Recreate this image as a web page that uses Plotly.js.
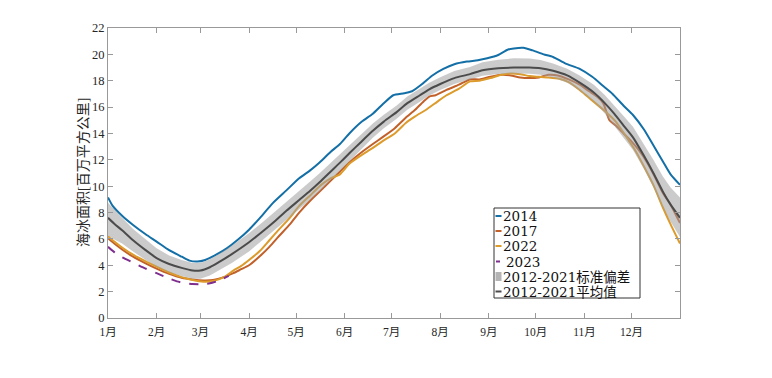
<!DOCTYPE html>
<html>
<head>
<meta charset="utf-8">
<script src="https://cdn.plot.ly/plotly-3.0.1.min.js"></script>
<style>html,body{margin:0;padding:0;background:#fff;}#chart{width:772px;height:378px;}</style>
</head>
<body>
<div id="chart"></div>
<script>
// Day of year (1..366) and sea ice extent (million km²)
const monthTickDays = [1,32,60,91,121,152,182,213,244,274,305,335];
const monthTickLabels = ["1月","2月","3月","4月","5月","6月","7月","8月","9月","10月","11月","12月"];
const yTickVals = [0,2,4,6,8,10,12,14,16,18,20,22];

const days2014 = [1,4,10,17,25,32,40,48,53,58,63,70,77,84,91,98,106,115,123,130,136,143,149,155,163,170,177,183,190,195,202,208,215,222,230,237,243,250,256,260,266,272,279,285,293,302,310,317,323,330,336,343,349,355,360,366];
const ext2014 = [9.15,8.5,7.75,7.05,6.35,5.8,5.15,4.65,4.35,4.28,4.4,4.8,5.3,5.95,6.7,7.6,8.7,9.7,10.6,11.2,11.8,12.6,13.2,14.0,14.9,15.5,16.3,16.9,17.05,17.2,17.8,18.4,18.9,19.25,19.45,19.55,19.7,19.95,20.35,20.45,20.5,20.3,20.0,19.8,19.3,18.9,18.3,17.6,17.0,16.1,15.4,14.3,13.1,11.9,10.9,10.1];

const days2017 = [1,5,10,17,25,32,40,48,55,62,68,75,81,86,91,98,104,110,117,123,130,137,143,149,155,162,170,176,184,191,197,203,206,210,217,225,232,238,245,252,258,264,270,276,282,288,295,302,308,313,317,321,325,330,335,340,345,350,355,360,366];
const ext2017 = [6.05,5.65,5.2,4.65,4.15,3.75,3.35,3.05,2.92,2.85,2.88,3.1,3.4,3.7,4.0,4.7,5.4,6.2,7.1,8.0,8.9,9.7,10.4,11.1,11.8,12.5,13.2,13.7,14.4,15.2,15.8,16.5,16.8,16.9,17.3,17.7,18.1,18.1,18.3,18.45,18.4,18.25,18.2,18.25,18.45,18.4,18.1,17.7,17.2,16.8,16.3,15.0,14.6,14.0,13.4,12.7,11.8,10.7,9.5,8.6,7.2];

const days2022 = [1,5,10,17,25,32,40,48,55,62,68,75,81,86,91,98,104,110,117,123,130,137,143,149,155,162,170,176,184,191,197,204,211,217,225,232,238,245,252,258,264,270,276,282,289,295,302,307,312,318,325,332,338,343,349,355,360,366];
const ext2022 = [6.2,5.8,5.35,4.8,4.3,3.9,3.45,3.1,2.88,2.75,2.8,3.1,3.6,3.95,4.4,5.1,5.9,6.7,7.6,8.5,9.3,10.1,10.6,10.9,11.7,12.3,12.9,13.4,14.0,14.8,15.3,15.8,16.4,16.9,17.4,17.95,18.0,18.2,18.45,18.55,18.5,18.35,18.3,18.25,18.15,17.9,17.3,16.8,16.3,15.7,14.9,13.7,12.6,11.5,10.1,8.4,7.1,5.65];

const days2023 = [1,5,10,17,25,32,40,45,50,55,60,66,72,78];
const ext2023 = [5.4,5.0,4.6,4.2,3.75,3.4,3.0,2.78,2.65,2.58,2.57,2.63,2.85,3.2];

const daysClim = [1,5,10,17,25,32,40,48,55,60,66,72,80,91,100,108,115,123,130,136,143,150,155,162,170,177,185,192,200,206,213,222,232,240,250,260,270,277,285,294,302,311,318,324,330,336,343,349,355,360,366];
const meanClim = [7.6,7.15,6.65,5.9,5.15,4.55,4.1,3.8,3.6,3.6,3.85,4.25,4.85,5.75,6.6,7.4,8.15,8.95,9.65,10.3,11.1,11.9,12.5,13.3,14.2,14.9,15.6,16.3,16.9,17.35,17.75,18.2,18.5,18.8,18.95,19.0,19.0,18.95,18.75,18.4,17.85,17.1,16.3,15.5,14.6,13.7,12.3,11.0,9.6,8.6,7.6];
const bandUpper = [8.75,8.2,7.6,6.75,5.95,5.3,4.75,4.4,4.18,4.18,4.45,4.87,5.5,6.43,7.3,8.1,8.85,9.65,10.35,10.98,11.76,12.55,13.12,13.9,14.75,15.42,16.1,16.8,17.4,17.85,18.27,18.73,19.05,19.4,19.6,19.7,19.68,19.57,19.3,18.9,18.4,17.7,16.92,16.15,15.32,14.5,13.2,12.0,10.75,9.9,9.15];
const bandLower = [6.25,5.95,5.65,5.05,4.4,3.9,3.48,3.18,2.98,2.98,3.23,3.6,4.17,5.05,5.9,6.7,7.45,8.25,8.95,9.62,10.44,11.25,11.88,12.72,13.68,14.4,15.1,15.8,16.4,16.87,17.29,17.76,18.08,18.38,18.51,18.55,18.52,18.45,18.25,17.85,17.25,16.4,15.52,14.65,13.7,12.75,11.3,9.9,8.4,7.3,6.15];

const seriesNames = ['2014','2017','2022','2023','2012-2021标准偏差','2012-2021平均值'];
const seriesColors = ['#136fa6','#c2602a','#dc9b2b','#7e2f8e','rgba(160,160,160,0.55)','#4b4b4b'];
const yTitle = '海冰面积[百万平方公里]';

const FONT = "Liberation Serif, 'Times New Roman', 'Noto Sans CJK SC', serif";
const LFONT = "DejaVu Serif, 'Noto Sans CJK SC', serif";
const sm = {shape:'spline', smoothing:0.6};

const traces = [
  {x: days2014, y: ext2014, name: seriesNames[0], type:'scatter', mode:'lines',
   line: Object.assign({color:seriesColors[0], width:2}, sm)},
  {x: days2017, y: ext2017, name: seriesNames[1], type:'scatter', mode:'lines',
   line: Object.assign({color:seriesColors[1], width:2}, sm)},
  {x: days2022, y: ext2022, name: seriesNames[2], type:'scatter', mode:'lines',
   line: Object.assign({color:seriesColors[2], width:2}, sm)},
  {x: days2023, y: ext2023, name: seriesNames[3], type:'scatter', mode:'lines',
   line: Object.assign({color:seriesColors[3], width:2, dash:'dash'}, sm)},
  {x: daysClim.concat(daysClim.slice().reverse()),
   y: bandUpper.concat(bandLower.slice().reverse()),
   name: seriesNames[4], type:'scatter', mode:'lines', fill:'toself',
   fillcolor: seriesColors[4], line:{width:0, color: seriesColors[4]}},
  {x: daysClim, y: meanClim, name: seriesNames[5], type:'scatter', mode:'lines',
   line: Object.assign({color:seriesColors[5], width:2}, sm)}
];

// Compact MATLAB-style legend drawn with shapes + annotations (paper coords from pixel layout)
const PL = 108, PW = 572, PT = 28, PH = 290;
const px = v => (v - PL) / PW;
const py = v => (PT + PH - v) / PH;
const shapes = [];
const annotations = [];
shapes.push({type:'rect', xref:'paper', yref:'paper', x0:px(494), x1:px(640), y0:py(208), y1:py(298),
  line:{color:'#333', width:1}, fillcolor:'#fff', layer:'above'});
const rowY = [216, 231, 246, 261.5, 276.5, 291.5];
seriesNames.forEach((n, i) => {
  const yy = rowY[i];
  if (i === 4) {
    shapes.push({type:'rect', xref:'paper', yref:'paper', x0:px(495.5), x1:px(501.5), y0:py(yy-4.5), y1:py(yy+4.5),
      line:{width:0}, fillcolor:'#b4b4b4', layer:'above'});
  } else if (i === 3) {
    shapes.push({type:'line', xref:'paper', yref:'paper', x0:px(496), x1:px(500), y0:py(yy), y1:py(yy),
      line:{color:seriesColors[i], width:2}, layer:'above'});
  } else {
    shapes.push({type:'line', xref:'paper', yref:'paper', x0:px(495.5), x1:px(501.5), y0:py(yy), y1:py(yy),
      line:{color:seriesColors[i], width:2}, layer:'above'});
  }
  annotations.push({xref:'paper', yref:'paper', x:px(i === 3 ? 504 : 501), y:py(yy), xanchor:'left', yanchor:'middle',
    text:n, showarrow:false, font:{family:LFONT, size:13.5, color:'#111'}});
});
// y-axis title placed as rotated text
annotations.push({xref:'paper', yref:'paper', x:px(83), y:py(173), xanchor:'center', yanchor:'middle',
  text:yTitle, textangle:-90, showarrow:false, font:{family:FONT, size:14, color:'#262626'}});

const layout = {
  width: 772, height: 378,
  margin: {l:108, r:92, t:28, b:60},
  paper_bgcolor:'#fff', plot_bgcolor:'#fff',
  font: {family: FONT, size: 12, color:'#262626'},
  showlegend: false,
  shapes: shapes,
  annotations: annotations,
  xaxis: {range:[1,366], tickmode:'array', tickvals: monthTickDays, ticktext: monthTickLabels,
    ticks:'inside', ticklen:5, tickcolor:'#999', showline:true, linecolor:'#999', linewidth:1,
    mirror:'ticks', showgrid:false, zeroline:false, ticklabelstandoff:3,
    tickfont:{family:FONT, size:11.5, color:'#262626'}},
  yaxis: {range:[0,22], tickmode:'array', tickvals: yTickVals,
    ticks:'inside', ticklen:5, tickcolor:'#999', showline:true, linecolor:'#999', linewidth:1,
    mirror:'ticks', showgrid:false, zeroline:false, tickfont:{family:FONT, size:12.5, color:'#262626'}}
};

Plotly.newPlot('chart', traces, layout, {staticPlot:true, displayModeBar:false});
</script>
</body>
</html>
